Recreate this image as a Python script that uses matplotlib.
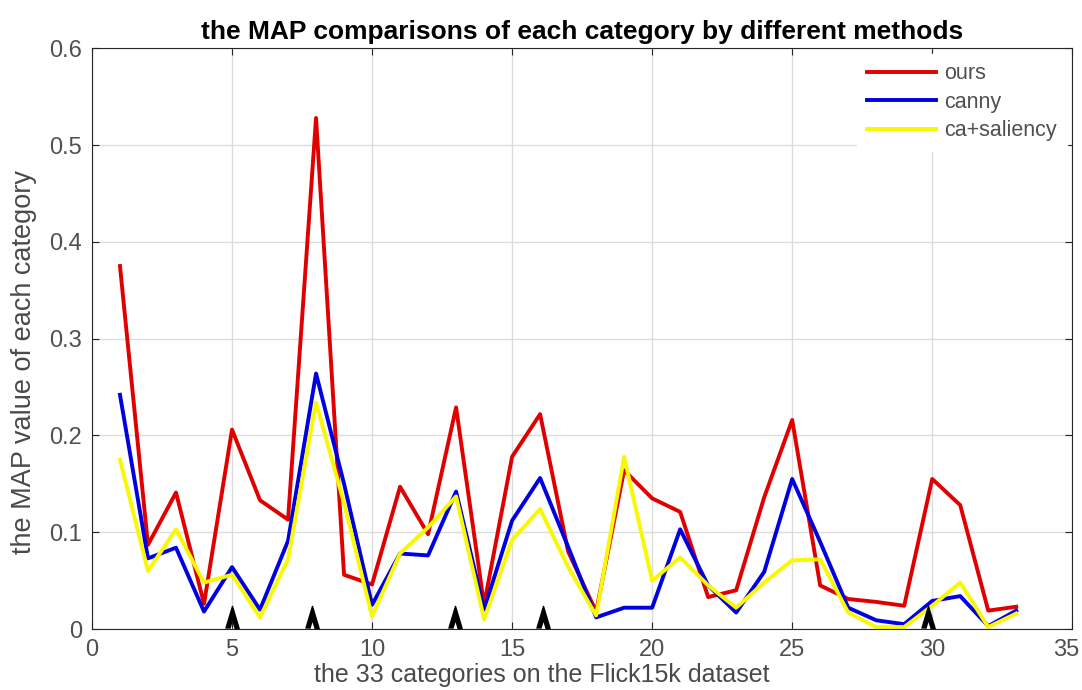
import numpy as np
import matplotlib
matplotlib.use("Agg")
import matplotlib.pyplot as plt
import matplotlib.transforms as mtransforms

plt.rcParams['font.family'] = ['Liberation Sans', 'DejaVu Sans']

# MAP per category
categories = np.arange(1, 34)
ours = [0.375, 0.087, 0.141, 0.026, 0.206, 0.133, 0.113, 0.528, 0.056, 0.046,
        0.147, 0.098, 0.229, 0.025, 0.178, 0.222, 0.080, 0.018, 0.164, 0.135,
        0.121, 0.033, 0.040, 0.136, 0.216, 0.045, 0.031, 0.028, 0.024, 0.155,
        0.128, 0.019, 0.023]
canny = [0.242, 0.073, 0.084, 0.018, 0.064, 0.020, 0.091, 0.264, 0.150, 0.025,
         0.078, 0.076, 0.142, 0.020, 0.112, 0.156, 0.085, 0.012, 0.022, 0.022,
         0.103, 0.045, 0.017, 0.059, 0.155, 0.090, 0.022, 0.009, 0.005, 0.029,
         0.034, 0.003, 0.019]
ca_saliency = [0.175, 0.060, 0.103, 0.048, 0.056, 0.012, 0.072, 0.234, 0.130, 0.013,
               0.078, 0.105, 0.137, 0.010, 0.092, 0.124, 0.064, 0.014, 0.178, 0.050,
               0.074, 0.045, 0.022, 0.048, 0.071, 0.072, 0.017, 0.002, 0.002, 0.024,
               0.048, 0.002, 0.016]
arrow_x = [5, 7.85, 12.95, 16.1, 29.85]

fig = plt.figure(figsize=(10.82, 6.9), dpi=100)
ax = fig.add_axes([0.085, 0.0884, 0.906, 0.8416])

ax.plot(categories, ours, color='#e00000', lw=2.8, label='ours')
ax.plot(categories, canny, color='#0000e0', lw=2.8, label='canny')
ax.plot(categories, ca_saliency, color='#f8f800', lw=2.8, label='ca+saliency')

# little black "A" arrows sitting on the x axis
tri = [(-0.3, -0.5), (0, 0.5), (0.3, -0.5), (0.12, -0.5), (0, -0.1), (-0.12, -0.5)]
ax.plot(arrow_x, [0.012] * len(arrow_x), ls='none', marker=tri, ms=16,
        color='k', mec='k', clip_on=False, zorder=5)

ax.set_xlim(0, 35)
ax.set_ylim(0, 0.6)
ax.set_xticks(np.arange(0, 36, 5))
ax.set_yticks(np.arange(0, 0.61, 0.1))
ax.set_yticklabels(['0', '0.1', '0.2', '0.3', '0.4', '0.5', '0.6'])
ax.grid(True, color='#dcdcdc', lw=1)
ax.set_axisbelow(True)
ax.tick_params(direction='in', top=True, right=True, colors='#262626',
               labelcolor='#505050', labelsize=17, length=5, pad=7)
for s in ax.spines.values():
    s.set_color('#262626')

# nudge the last x tick label so it stays inside the figure
fig.canvas.draw()
last = ax.get_xticklabels()[-1]
last.set_transform(last.get_transform() +
                   mtransforms.ScaledTranslation(-6 / 100, 0, fig.dpi_scale_trans))

ax.set_title('the MAP comparisons of each category by different methods',
             fontsize=19, fontweight='bold', pad=7)
ax.set_xlabel('the 33 categories on the Flick15k dataset', fontsize=18,
              color='#4a4a4a')
ax.set_ylabel('the MAP value of each category', fontsize=19.5,
              color='#4a4a4a')
ax.xaxis.set_label_coords((542 - 92) / 980, -0.058)
ax.yaxis.set_label_coords(-0.056, (629 - 362) / 581)

leg = ax.legend(loc='upper right', fontsize=15.5, frameon=True, fancybox=False,
                edgecolor='white', framealpha=1, handlelength=3.2,
                handletextpad=0.4, borderpad=0.45, labelspacing=0.35,
                borderaxespad=0.25)
for t in leg.get_texts():
    t.set_color('#505050')

fig.savefig('out.png', dpi=100)
